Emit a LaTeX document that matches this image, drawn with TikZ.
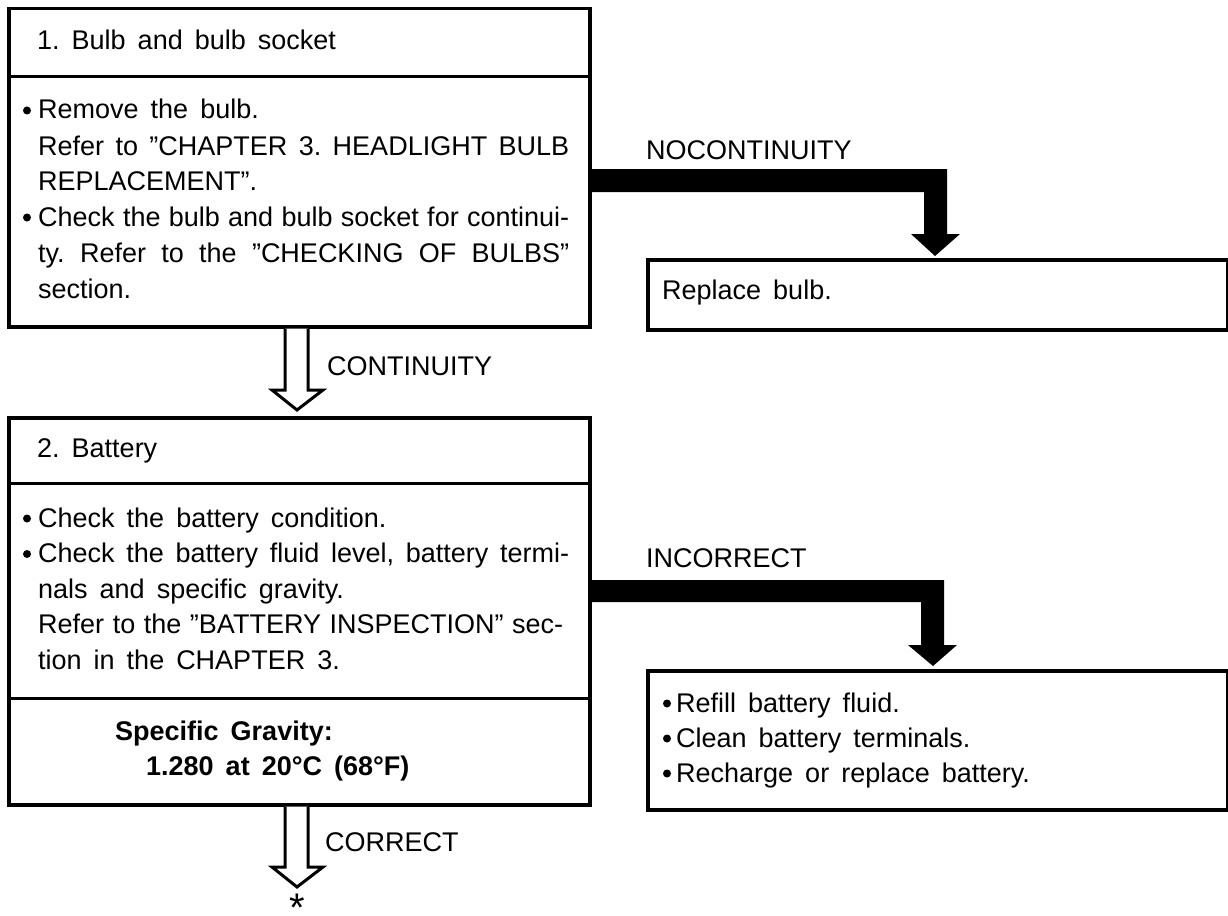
\documentclass[tikz,border=0pt]{standalone}
\usepackage{fontspec}
\setmainfont{Liberation Sans}[WordSpace=1.6]
\usetikzlibrary{calc}
\frenchspacing
\begin{document}
\begin{tikzpicture}[x=1pt,y=-1pt,
  box/.style={draw, line width=3.5pt, anchor=north west, inner sep=0pt},
  sepline/.style={line width=3pt},
  txt/.style={anchor=base west, inner sep=0pt, font=\fontsize{27}{30}\selectfont},
  btxt/.style={anchor=base west, inner sep=0pt, font=\fontsize{27}{30}\selectfont\bfseries},
  hollow/.style={draw, line width=3pt, line join=miter, fill=white},
  blackarrow/.style={fill=black},
  bul/.style={fill=black}
]
\useasboundingbox (0,0) rectangle (1228,915);

% boxes
\node[box, minimum width=581pt, minimum height=318pt] (b1) at (7,7) {};
\node[box, minimum width=581pt, minimum height=387pt] (b2) at (7,416) {};
\node[box, minimum width=580pt, minimum height=70pt] (rb) at (646,258) {};
\node[box, minimum width=580pt, minimum height=139pt] (fb) at (646,669) {};

% separators
\draw[sepline] (b1.west |- 0,77) -- (b1.east |- 0,77);
\draw[sepline] (b2.west |- 0,483) -- (b2.east |- 0,483);
\draw[sepline] (b2.west |- 0,698) -- (b2.east |- 0,698);

% box 1 text
\node[txt] (h1) at (37,50) {1. Bulb and bulb socket};
\node[txt] (l11) at (38,119) {Remove the bulb.};
\node[txt] (l12) at (38,155) {\hbox to 531pt{Refer to ''CHAPTER 3. HEADLIGHT BULB}};
\node[txt] (l13) at (38,190) {REPLACEMENT''.};
\node[txt] (l14) at (38,226) {\hbox to 531pt{Check the bulb and bulb socket for continui-}};
\node[txt] (l15) at (38,262) {\hbox to 531pt{ty. Refer to the ''CHECKING OF BULBS''}};
\node[txt] (l16) at (38,298) {section.};
\fill[bul] (27,110.5) circle (4pt);
\fill[bul] (27,217.5) circle (4pt);

% box 2 text
\node[txt] (h2) at (37,457) {2. Battery};
\node[txt] (l21) at (38,527) {Check the battery condition.};
\node[txt] (l22) at (38,562.5) {\hbox to 531pt{Check the battery fluid level, battery termi-}};
\node[txt] (l23) at (38,598) {nals and specific gravity.};
\node[txt] (l24) at (38,633.5) {\hbox to 525pt{Refer to the ''BATTERY INSPECTION'' sec-}};
\node[txt] (l25) at (38,669) {tion in the CHAPTER 3.};
\fill[bul] (27,518.5) circle (4pt);
\fill[bul] (27,554) circle (4pt);
\node[btxt] (sg1) at (115,740) {Specific Gravity:};
\node[btxt] (sg2) at (146,775) {1.280 at 20°C (68°F)};

% result boxes text
\node[txt] (rbt) at (662,299) {Replace bulb.};
\node[txt] (f1) at (676,712) {Refill battery fluid.};
\node[txt] (f2) at (676,747) {Clean battery terminals.};
\node[txt] (f3) at (676,782) {Recharge or replace battery.};
\fill[bul] (667,703.5) circle (4pt);
\fill[bul] (667,738.5) circle (4pt);
\fill[bul] (667,773.5) circle (4pt);

% black arrows
\fill[blackarrow] (b1.east |- 0,169) -- (947,169) -- (947,234) -- (960,234)
  -- ($(rb.north west)+(289,-2)$) -- (911,234) -- (924,234) -- (924,192)
  -- (b1.east |- 0,192) -- cycle;
\node[txt] (nc) at (646,159) {NOCONTINUITY};

\fill[blackarrow] (b2.east |- 0,580) -- (944,580) -- (944,645) -- (957,645)
  -- ($(fb.north west)+(287,-3)$) -- (908,645) -- (921,645) -- (921,602)
  -- (b2.east |- 0,602) -- cycle;
\node[txt] (ic) at (646,567) {INCORRECT};

% hollow arrows
\draw[hollow] (b1.south -| 285,0) -- (285,390) -- (272,390) -- ($(b2.north -| 297,0)+(0,-6)$)
  -- (323,390) -- (308,390) -- (b1.south -| 308,0);
\node[txt] (cont) at (327,375) {CONTINUITY};

\draw[hollow] (b2.south -| 285,0) -- (285,867) -- (272,867) -- (297,887)
  -- (323,867) -- (308,867) -- (b2.south -| 308,0);
\node[txt] (corr) at (325,851) {CORRECT};
\node[anchor=base, inner sep=0pt, font=\fontsize{40}{40}\selectfont] (star) at (297,898) {\raisebox{-23pt}[0pt][0pt]{*}};
\end{tikzpicture}
\end{document}
